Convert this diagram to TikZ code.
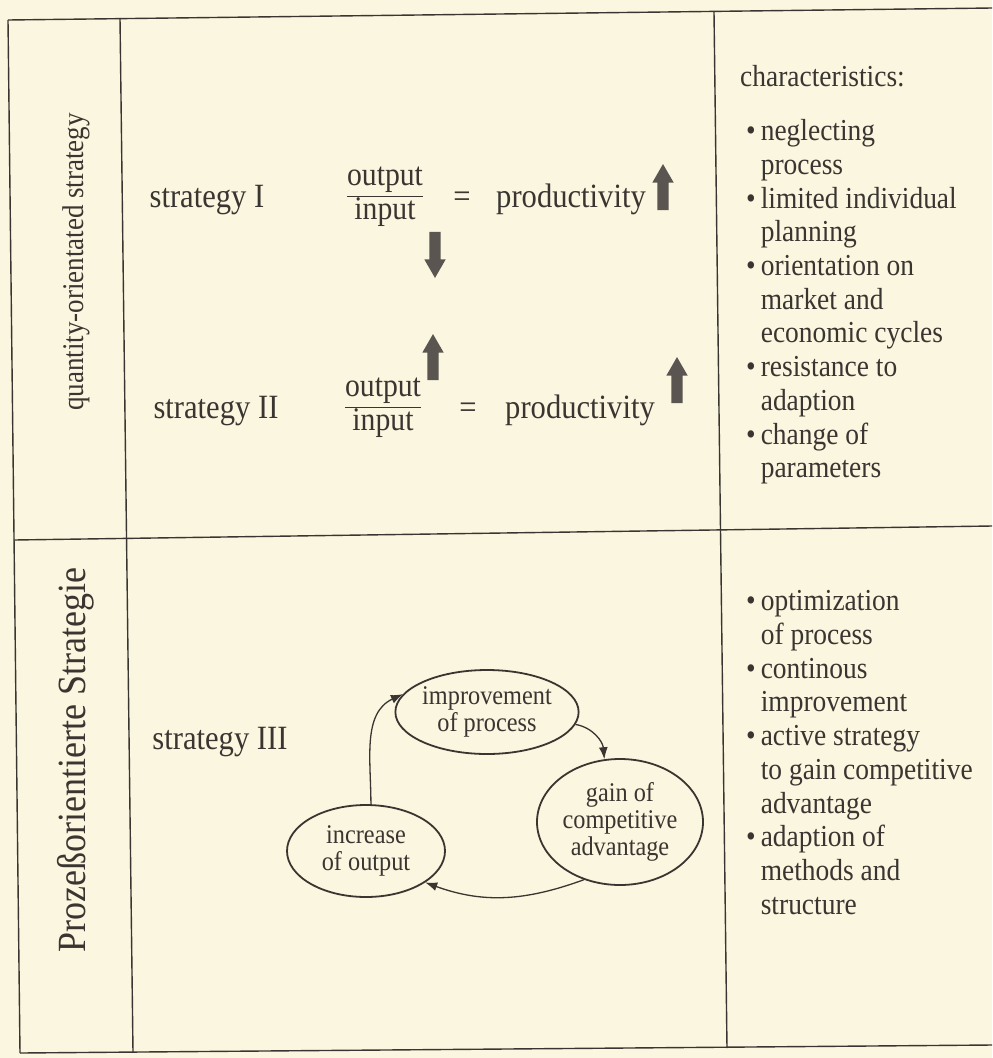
\documentclass[tikz,border=0pt]{standalone}
\usepackage{fontspec}
\setmainfont[FakeStretch=0.9]{Liberation Serif}
\usetikzlibrary{shapes.geometric,shapes.arrows,arrows.meta}
\definecolor{paper}{HTML}{FBF6DF}
\definecolor{ink}{HTML}{3A3531}
\definecolor{arrowgray}{HTML}{5A5550}

\begin{document}
\begin{tikzpicture}[x=1pt,y=-1pt,
  rule/.style={draw=ink,line width=1.4pt},
  lbl/.style={text=ink,inner sep=0pt,anchor=base,font=\fontsize{34}{38}\selectfont},
  frac/.style={text=ink,inner sep=0pt,font=\fontsize{33}{38}\selectfont},
  side/.style={text=ink,inner sep=0pt,rotate=90},
  notes/.style={text=ink,inner sep=0pt,align=left,font=\fontsize{30.5}{33.7}\selectfont},
  cyc/.style={ellipse,draw=ink,line width=1.8pt,inner sep=0pt,text=ink,align=center,font=\fontsize{27}{27}\selectfont},
  blk/.style={single arrow,fill=arrowgray,draw=none,inner xsep=0pt,inner ysep=5.5pt,
    single arrow head extend=5pt,single arrow tip angle=60,minimum height=46pt},
  flow/.style={draw=ink,line width=1.3pt,-{Latex[length=12pt,width=9pt]}}]

\fill[paper] (0,0) rectangle (992,1058);

\coordinate (tl) at (8,20);
\coordinate (tr) at (992,8);
\coordinate (ml) at (14,540);
\coordinate (mr) at (992,526);
\coordinate (bl) at (20,1053);
\coordinate (br) at (992,1045);
\coordinate (c1t) at (120,18);
\coordinate (c1b) at (133,1052);
\coordinate (c2t) at (714,12);
\coordinate (c2b) at (727,1048);

\draw[rule] (tl) -- (tr);
\draw[rule] (ml) -- (mr);
\draw[rule] (bl) -- (br);
\draw[rule] (tl) -- (bl);
\draw[rule] (c1t) -- (c1b);
\draw[rule] (c2t) -- (c2b);

\node[side,font=\fontsize{30}{34}\selectfont] (quant) at (76,262) {quantity-orientated strategy};
\node[side,font=\fontsize{40}{44}\selectfont] (proz) at (76,760) {Prozeßorientierte Strategie};

\node[lbl] (s1) at (207,207) {strategy I};
\node[frac] (f1) at (385,197) {$\displaystyle\frac{\mbox{output}}{\mbox{input}}$};
\node[lbl] (eq1) at (462,207) {=};
\node[lbl] (p1) at (571,207) {productivity};
\node[blk,rotate=90] (a1) at (663,192) {};
\node[blk,rotate=-90] (a2) at (435,250) {};

\node[lbl] (s2) at (216,418) {strategy II};
\node[frac] (f2) at (383,408) {$\displaystyle\frac{\mbox{output}}{\mbox{input}}$};
\node[lbl] (eq2) at (468,418) {=};
\node[lbl] (p2) at (580,418) {productivity};
\node[blk,rotate=90] (a3) at (677,385) {};
\node[blk,rotate=90] (a4) at (433,362) {};

\node[notes,anchor=base west] (chr) at (740,86) {characteristics:};
\node[notes,anchor=north west] (list1) at (746,117) {\begin{tabular}{@{}l@{\hspace{5pt}}l@{}}
\textbullet & neglecting\\
 & process\\
\textbullet & limited individual\\
 & planning\\
\textbullet & orientation on\\
 & market and\\
 & economic cycles\\
\textbullet & resistance to\\
 & adaption\\
\textbullet & change of\\
 & parameters
\end{tabular}};

\node[notes,anchor=north west] (list2) at (746,587) {\begin{tabular}{@{}l@{\hspace{5pt}}l@{}}
\textbullet & optimization\\
 & of process\\
\textbullet & continous\\
 & improvement\\
\textbullet & active strategy\\
 & to gain competitive\\
 & advantage\\
\textbullet & adaption of\\
 & methods and\\
 & structure
\end{tabular}};

\node[lbl] (s3) at (220,749) {strategy III};
\node[cyc,minimum width=152pt,minimum height=84pt] (imp) at (487,712) {improvement\\of process};
\node[cyc,minimum width=166pt,minimum height=126pt] (gain) at (620,822) {gain of\\competitive\\advantage};
\node[cyc,minimum width=158pt,minimum height=92pt] (inc) at (366,851) {increase\\of output};

\draw[flow] (inc.84) to[out=90,in=205] (imp.168);
\draw[flow] (imp.-8) to[out=-10,in=95] (gain.104);
\draw[flow] (gain.238) to[out=200,in=-20] (inc.-28);

\end{tikzpicture}
\end{document}
